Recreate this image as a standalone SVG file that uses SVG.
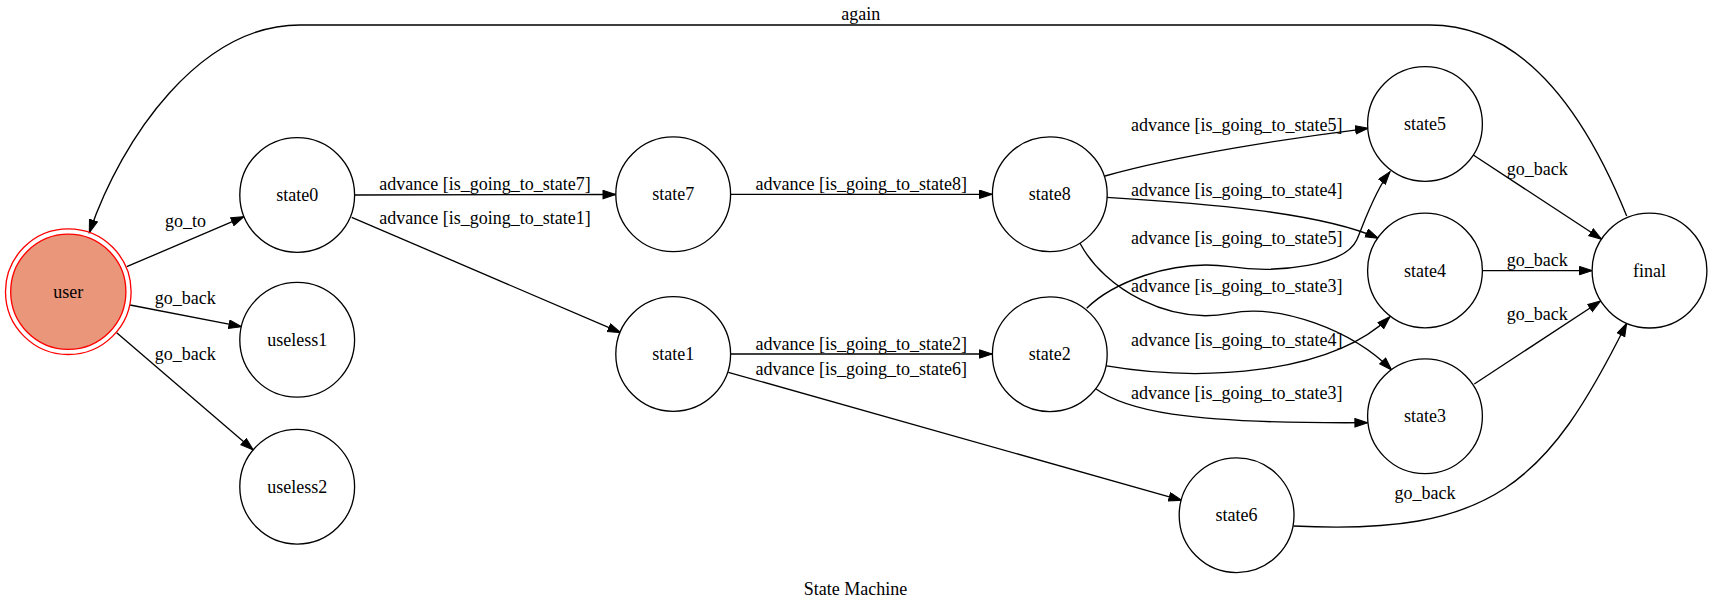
<svg xmlns="http://www.w3.org/2000/svg" width="1712" height="611" viewBox="0 0 1712 611">
<style>
  .node circle { fill: #ffffff; stroke: #000000; stroke-width: 1.33; }
  .node text, .lbl, .title { font-family: "Liberation Serif", "Times New Roman", serif; font-size: 18px; fill: #000000; text-anchor: middle; }
  #connectors path { fill: none; stroke: #000000; stroke-width: 1.33; marker-end: url(#arrow); }
</style>
<defs>
  <marker id="arrow" markerUnits="userSpaceOnUse" markerWidth="16" markerHeight="12" refX="13.3" refY="4.7" orient="auto">
    <path d="M0.5,0.5 L13.3,4.7 L0.5,8.9 Z" fill="#000000" stroke="#000000" stroke-width="1"/>
  </marker>
</defs>
<rect x="0" y="0" width="1712" height="611" fill="#ffffff"/>

<g id="connectors">
  <path id="e-final-user" d="M1626.7,216 C1600,150 1540,25 1430,25 L300,25 C200,25 122,137 89.3,232.7"/>
  <path id="e-user-state0" d="M126.7,266.7 L244,216.7"/>
  <path id="e-user-useless1" d="M130,305 L241.7,326.7"/>
  <path id="e-user-useless2" d="M116.7,332.7 L253.3,450"/>
  <path id="e-state0-state7" d="M354.6,195 L615.8,194.5"/>
  <path id="e-state0-state1" d="M351.7,217.3 L620.7,332.7"/>
  <path id="e-state7-state8" d="M730.7,194.3 L992.3,194.3"/>
  <path id="e-state1-state2" d="M730.7,354 L992.3,354"/>
  <path id="e-state1-state6" d="M728.3,372.3 L1181.7,500.3"/>
  <path id="e-state8-state5" d="M1105,176 C1180,155 1290,138 1368.3,128.3"/>
  <path id="e-state8-state4" d="M1106.7,197.3 C1200,203 1320,212 1378.3,238.3"/>
  <path id="e-state8-state3" d="M1080,243.3 C1105,290 1170,325 1230,313.3 C1280,303.5 1351.7,330 1391.7,370"/>
  <path id="e-state2-state5" d="M1086.7,308.3 C1110,285 1170,258 1230,266.7 C1280,274 1345,265 1356.7,240 C1362,228.6 1374,191.7 1390,171.7"/>
  <path id="e-state2-state4" d="M1105,365.7 C1200,382 1330,375 1390,316.7"/>
  <path id="e-state2-state3" d="M1095,388.3 C1125,410 1180,424 1367.7,422.7"/>
  <path id="e-state5-final" d="M1473.3,155 L1601.7,239.3"/>
  <path id="e-state4-final" d="M1482.7,270.6 L1592.3,270.6"/>
  <path id="e-state3-final" d="M1474.3,384 L1600.7,301"/>
  <path id="e-state6-final" d="M1293.3,526 C1493,536 1547,483 1626.7,323.3"/>
</g>

<g id="edge-labels">
  <text class="lbl" x="860.8" y="20">again</text>
  <text class="lbl" x="185.6" y="227">go_to</text>
  <text class="lbl" x="185.3" y="304">go_back</text>
  <text class="lbl" x="185.3" y="360">go_back</text>
  <text class="lbl" x="485" y="190">advance [is_going_to_state7]</text>
  <text class="lbl" x="485" y="223.5">advance [is_going_to_state1]</text>
  <text class="lbl" x="861.2" y="190">advance [is_going_to_state8]</text>
  <text class="lbl" x="861.2" y="350">advance [is_going_to_state2]</text>
  <text class="lbl" x="861.2" y="375">advance [is_going_to_state6]</text>
  <text class="lbl" x="1236.7" y="130.7">advance [is_going_to_state5]</text>
  <text class="lbl" x="1236.7" y="195.7">advance [is_going_to_state4]</text>
  <text class="lbl" x="1236.7" y="244">advance [is_going_to_state5]</text>
  <text class="lbl" x="1236.7" y="292.3">advance [is_going_to_state3]</text>
  <text class="lbl" x="1236.7" y="346">advance [is_going_to_state4]</text>
  <text class="lbl" x="1236.7" y="399.3">advance [is_going_to_state3]</text>
  <text class="lbl" x="1537.2" y="175">go_back</text>
  <text class="lbl" x="1537.2" y="265.7">go_back</text>
  <text class="lbl" x="1537.2" y="320">go_back</text>
  <text class="lbl" x="1425" y="499.3">go_back</text>
</g>

<g id="user" class="node">
  <circle cx="68.3" cy="291.7" r="62.8" style="fill:none;stroke:#ff0000"/>
  <circle cx="68.3" cy="291.7" r="57.6" style="fill:#e9967a;stroke:#ff0000"/>
  <text x="68.3" y="297.7">user</text>
</g>
<g id="state0" class="node"><circle cx="297.2" cy="195" r="57.4"/><text x="297.2" y="201">state0</text></g>
<g id="useless1" class="node"><circle cx="297.2" cy="339.8" r="57.4"/><text x="297.2" y="345.8">useless1</text></g>
<g id="useless2" class="node"><circle cx="297.2" cy="486.7" r="57.4"/><text x="297.2" y="492.7">useless2</text></g>
<g id="state7" class="node"><circle cx="673.2" cy="194.3" r="57.4"/><text x="673.2" y="200.3">state7</text></g>
<g id="state1" class="node"><circle cx="673.2" cy="354" r="57.4"/><text x="673.2" y="360">state1</text></g>
<g id="state8" class="node"><circle cx="1049.8" cy="194.3" r="57.4"/><text x="1049.8" y="200.3">state8</text></g>
<g id="state2" class="node"><circle cx="1049.8" cy="354.2" r="57.4"/><text x="1049.8" y="360.2">state2</text></g>
<g id="state6" class="node"><circle cx="1236.6" cy="515.2" r="57.4"/><text x="1236.6" y="521.2">state6</text></g>
<g id="state5" class="node"><circle cx="1425" cy="124" r="57.4"/><text x="1425" y="130">state5</text></g>
<g id="state4" class="node"><circle cx="1425" cy="270.5" r="57.4"/><text x="1425" y="276.5">state4</text></g>
<g id="state3" class="node"><circle cx="1425" cy="416.3" r="57.4"/><text x="1425" y="422.3">state3</text></g>
<g id="final" class="node"><circle cx="1649.5" cy="270.6" r="57.4"/><text x="1649.5" y="276.6">final</text></g>

<text class="title" x="855.5" y="595">State Machine</text>
</svg>
